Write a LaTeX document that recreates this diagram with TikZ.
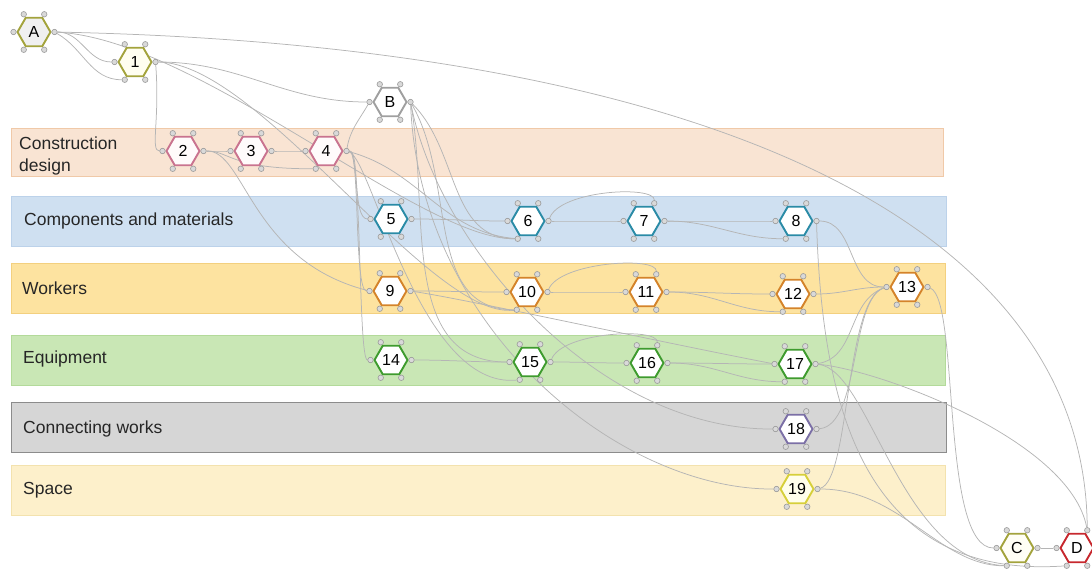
\documentclass[tikz,border=0pt]{standalone}
\usepackage{fontspec}
\setmainfont{Liberation Sans}
\usetikzlibrary{shapes.geometric,calc}
\pgfdeclarelayer{bg}\pgfdeclarelayer{mid}
\pgfsetlayers{bg,mid,main}
\definecolor{olivec}{HTML}{A3A33C}
\definecolor{pinkc}{HTML}{C9738F}
\definecolor{tealc}{HTML}{2A8BA6}
\definecolor{orangec}{HTML}{D4832A}
\definecolor{greenc}{HTML}{3E9B2E}
\definecolor{purplec}{HTML}{7B6FA6}
\definecolor{yellowc}{HTML}{D6CF3A}
\definecolor{redc}{HTML}{C7282E}
\definecolor{bandA}{HTML}{F9E4D3}\definecolor{bandAd}{HTML}{F0C9A8}
\definecolor{bandB}{HTML}{CFE0F1}\definecolor{bandBd}{HTML}{BCD2EA}
\definecolor{bandC}{HTML}{FDE3A0}\definecolor{bandCd}{HTML}{F3D07F}
\definecolor{bandD}{HTML}{C9E7B5}\definecolor{bandDd}{HTML}{B3DA9A}
\definecolor{bandE}{HTML}{D6D6D6}\definecolor{bandEd}{HTML}{8C8C8C}
\definecolor{bandF}{HTML}{FDF0CB}\definecolor{bandFd}{HTML}{F3E2AE}
\tikzset{
 band/.style={line width=0.7pt},
 bandlabel/.style={anchor=west, font=\fontsize{17.5}{22}\selectfont, inner sep=0pt, align=left, text=black!85},
 hexs/.style={regular polygon, regular polygon sides=6, minimum size=33pt, inner sep=0pt, line width=1.9pt, font=\fontsize{16}{18}\selectfont},
 port/.style={circle, minimum size=5.5pt, inner sep=0pt, draw=gray!80, fill=gray!30, line width=0.6pt},
 edge/.style={draw=gray!58, line width=0.75pt},
}
\newcommand{\hexnode}[5]{%
 \node[hexs, draw=#3, fill=#4] (#1) at (#2) {#5};
 \foreach \ang/\pn in {0/e,60/ne,120/nw,180/w,240/sw,300/se}{\node[port] (#1-\pn) at ($(#1.center)+(\ang:20.5pt)$) {};}
}
\begin{document}
\begin{tikzpicture}[x=1pt,y=-1pt]
\useasboundingbox (0,0) rectangle (1092,571);
\begin{pgfonlayer}{bg}
\draw[band, fill=bandA, draw=bandAd] (11,128) rectangle (943,176);
\draw[band, fill=bandB, draw=bandBd] (11,196) rectangle (946,246);
\draw[band, fill=bandC, draw=bandCd] (11,263) rectangle (945,313);
\draw[band, fill=bandD, draw=bandDd] (11,335) rectangle (945,385);
\draw[band, fill=bandE, draw=bandEd] (11,402) rectangle (946,452);
\draw[band, fill=bandF, draw=bandFd] (11,465) rectangle (945,515);
\end{pgfonlayer}
\node[bandlabel] (l1) at (19,156) {Construction\\design};
\node[bandlabel] (l2) at (24,221) {Components and materials};
\node[bandlabel] (l3) at (22,288) {Workers};
\node[bandlabel] (l4) at (23,359) {Equipment};
\node[bandlabel] (l5) at (23,429) {Connecting works};
\node[bandlabel] (l6) at (23,490) {Space};

\hexnode{A}{34,32}{olivec}{gray!12}{A}
\hexnode{1}{135,62}{olivec}{yellow!6}{1}
\hexnode{B}{390,102}{gray!75}{white}{B}
\hexnode{2}{183,151}{pinkc}{pink!6}{2}
\hexnode{3}{251,151}{pinkc}{pink!6}{3}
\hexnode{4}{326,151}{pinkc}{pink!6}{4}
\hexnode{5}{391,219}{tealc}{white}{5}
\hexnode{6}{528,221}{tealc}{white}{6}
\hexnode{7}{644,221}{tealc}{white}{7}
\hexnode{8}{796,221}{tealc}{white}{8}
\hexnode{9}{390,291}{orangec}{white}{9}
\hexnode{10}{527,292}{orangec}{white}{10}
\hexnode{11}{646,292}{orangec}{white}{11}
\hexnode{12}{793,294}{orangec}{white}{12}
\hexnode{13}{907,287}{orangec}{white}{13}
\hexnode{14}{391,360}{greenc}{white}{14}
\hexnode{15}{530,362}{greenc}{white}{15}
\hexnode{16}{647,363}{greenc}{white}{16}
\hexnode{17}{795,364}{greenc}{white}{17}
\hexnode{18}{796,429}{purplec}{white}{18}
\hexnode{19}{797,489}{yellowc}{yellow!8}{19}
\hexnode{C}{1017,548}{olivec}{yellow!4}{C}
\hexnode{D}{1077,548}{redc}{white}{D}

\begin{pgfonlayer}{mid}
\draw[edge] (A-e) to[out=0,in=180] (1-w);
\draw[edge] (A-e) to[out=-30,in=180] (1-sw);
\draw[edge] (A-e) .. controls (700,45) and (1085,220) .. (D-ne);
\draw[edge] (A-e) .. controls (200,40) and (420,240) .. (6-sw);
\draw[edge] (1-e) to[out=0,in=180] (B-w);
\draw[edge] (1-e) .. controls (260,63) and (430,320) .. (10-sw);
\draw[edge] (1-e) .. controls (160,120) and (150,151) .. (2-w);
\draw[edge] (2-e) to[out=0,in=180] (3-w);
\draw[edge] (2-e) .. controls (230,151) and (230,169) .. (4-sw);
\draw[edge] (2-e) .. controls (245,150) and (250,260) .. (9-w);
\draw[edge] (3-e) to[out=0,in=180] (4-w);
\draw[edge] (4-e) to[out=80,in=240] (B-w);
\draw[edge] (4-e) .. controls (360,151) and (352,219) .. (5-w);
\draw[edge] (4-e) .. controls (360,151) and (354,291) .. (9-w);
\draw[edge] (4-e) .. controls (362,151) and (358,360) .. (14-w);
\draw[edge] (4-e) to[out=-15,in=175] (6-sw);
\draw[edge] (4-e) .. controls (372,160) and (420,390) .. (15-sw);
\draw[edge] (B-e) to[out=-45,in=180] (6-sw);
\draw[edge] (B-e) to[out=-60,in=180] (10-sw);
\draw[edge] (B-e) to[out=-80,in=180] (15-w);
\draw[edge] (B-e) .. controls (440,250) and (600,430) .. (18-w);
\draw[edge] (B-e) .. controls (420,330) and (620,490) .. (19-w);
\draw[edge] (5-e) to[out=0,in=180] (6-w);
\draw[edge] (6-e) to[out=0,in=180] (7-w);
\draw[edge] (6-e) .. controls (560,190) and (655,185) .. (7-ne);
\draw[edge] (7-e) to[out=0,in=180] (8-w);
\draw[edge] (7-e) to[out=0,in=180] (8-sw);
\draw[edge] (8-e) to[out=0,in=180] (13-w);
\draw[edge] (8-e) .. controls (822,400) and (860,580) .. (D-sw);
\draw[edge] (9-e) to[out=0,in=180] (10-w);
\draw[edge] (9-e) .. controls (470,300) and (650,340) .. (17-w);
\draw[edge] (10-e) to[out=0,in=180] (11-w);
\draw[edge] (10-e) .. controls (560,262) and (657,256) .. (11-ne);
\draw[edge] (11-e) to[out=0,in=180] (12-w);
\draw[edge] (11-e) to[out=0,in=180] (12-sw);
\draw[edge] (12-e) to[out=0,in=180] (13-w);
\draw[edge] (13-e) .. controls (960,300) and (940,548) .. (C-w);
\draw[edge] (14-e) to[out=0,in=180] (15-w);
\draw[edge] (15-e) to[out=0,in=180] (16-w);
\draw[edge] (15-e) .. controls (562,332) and (658,327) .. (16-ne);
\draw[edge] (16-e) to[out=0,in=180] (17-w);
\draw[edge] (16-e) to[out=0,in=180] (17-sw);
\draw[edge] (17-e) to[out=10,in=200] (13-w);
\draw[edge] (17-e) .. controls (880,370) and (1070,440) .. (D-ne);
\draw[edge] (17-e) .. controls (870,370) and (900,560) .. (C-sw);
\draw[edge] (18-e) .. controls (860,425) and (850,300) .. (13-w);
\draw[edge] (19-e) .. controls (850,480) and (845,300) .. (13-w);
\draw[edge] (19-e) .. controls (900,489) and (940,566) .. (C-sw);
\draw[edge] (C-e) to[out=0,in=180] (D-w);
\end{pgfonlayer}
\end{tikzpicture}
\end{document}
